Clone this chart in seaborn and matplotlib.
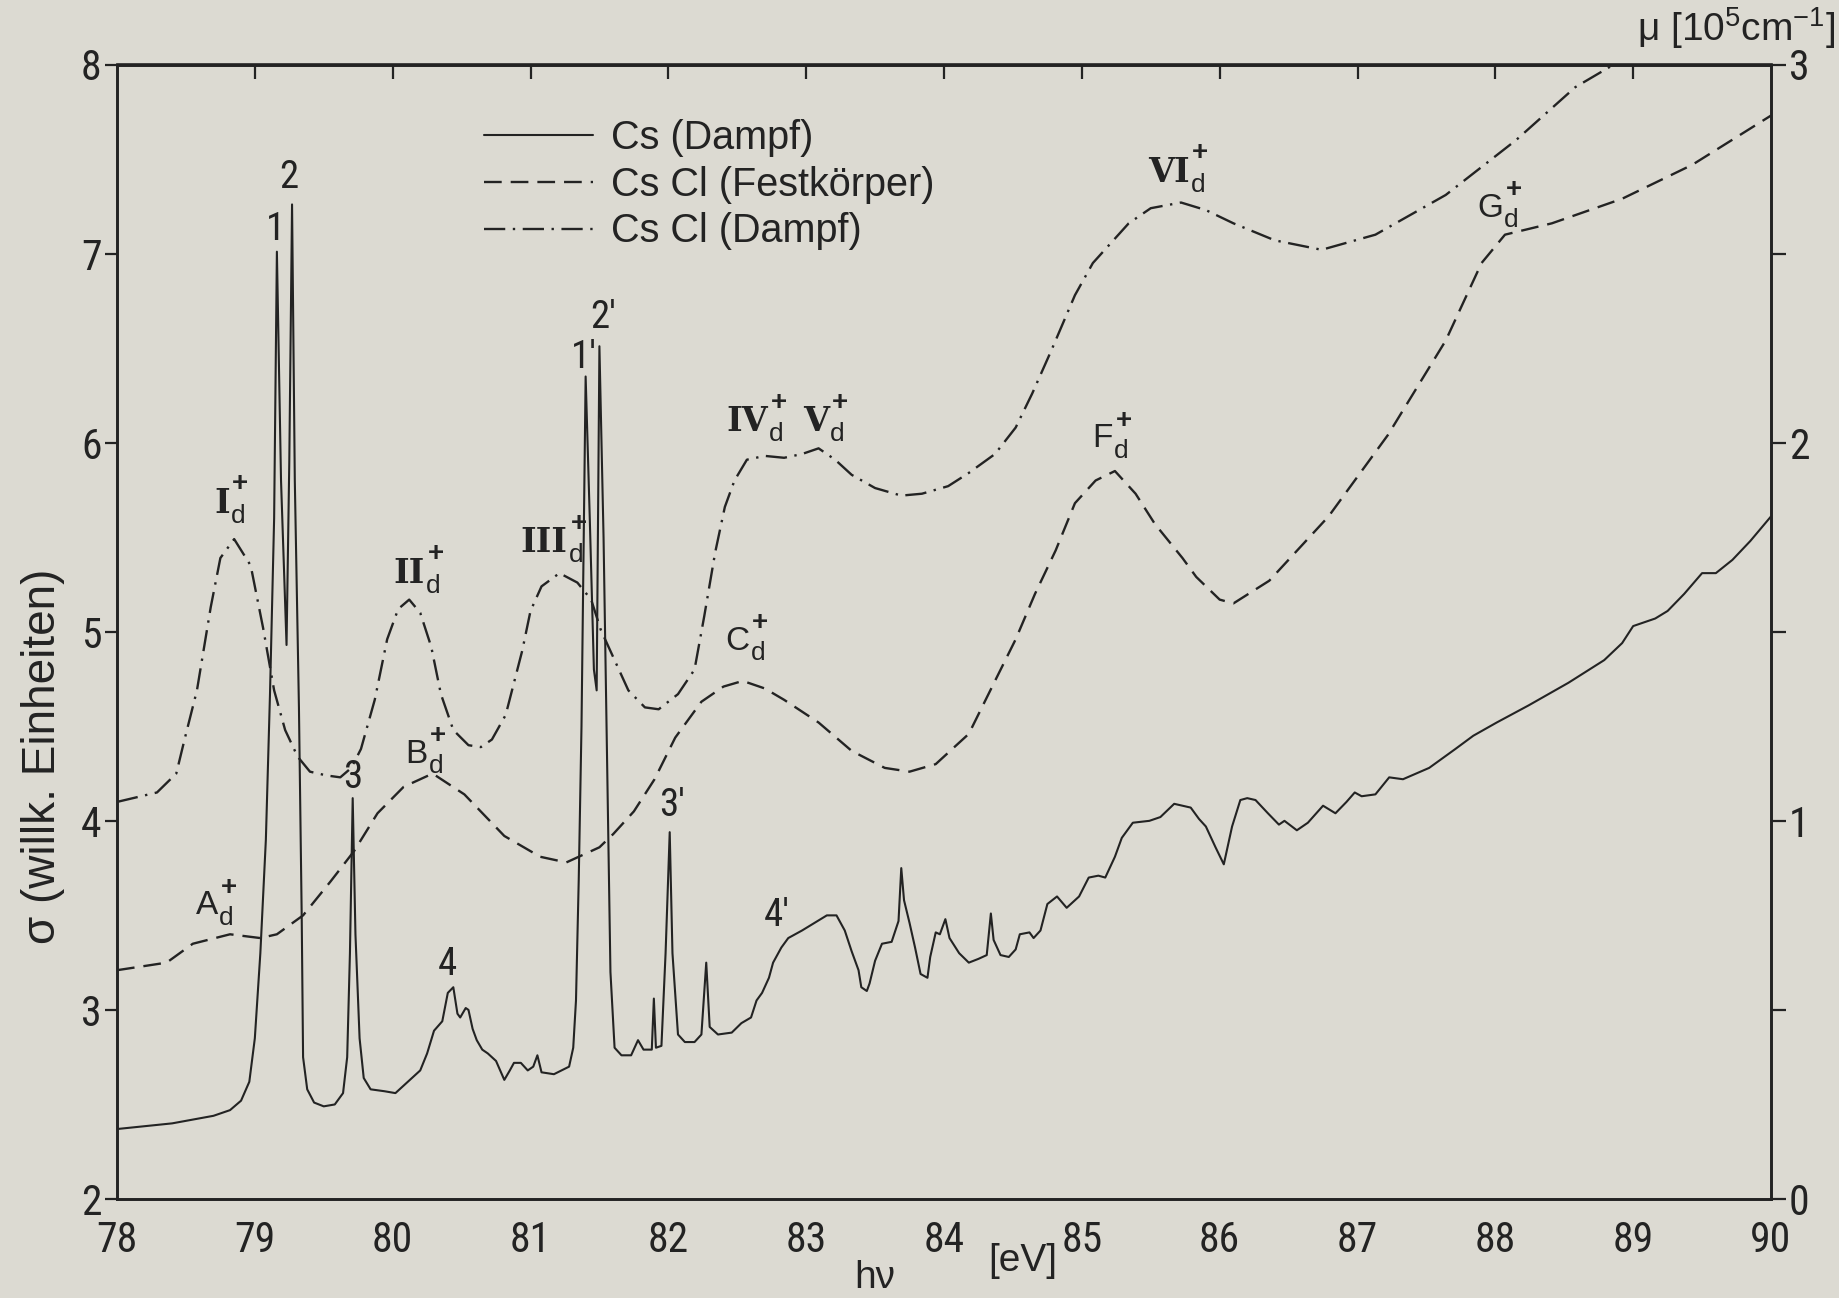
import numpy as np
import pandas as pd
import matplotlib
matplotlib.use("Agg")
import matplotlib.pyplot as plt
import matplotlib.transforms as mtransforms
from matplotlib import font_manager as fm
from matplotlib.lines import Line2D
import seaborn as sns

# ---------------------------------------------------------------- data
# Cs vapour (solid line)
cs_vap_hv = [78.0, 78.4, 78.7, 78.82, 78.9, 78.96, 79.0, 79.04, 79.08, 79.11, 79.14, 79.16,
             79.19, 79.23, 79.25, 79.27, 79.29, 79.32, 79.34, 79.35, 79.38, 79.43, 79.5,
             79.58, 79.64, 79.67, 79.69, 79.71, 79.73, 79.76, 79.79, 79.84, 79.94, 80.02,
             80.08, 80.14, 80.2, 80.25, 80.3, 80.36, 80.4, 80.44, 80.47, 80.49, 80.53,
             80.55, 80.58, 80.61, 80.65, 80.69, 80.75, 80.81, 80.85, 80.88, 80.93, 80.98,
             81.02, 81.05, 81.08, 81.17, 81.28, 81.31, 81.33, 81.35, 81.37, 81.4, 81.43,
             81.46, 81.48, 81.5, 81.53, 81.56, 81.58, 81.61, 81.66, 81.73, 81.78, 81.82,
             81.88, 81.895, 81.91, 81.95, 81.98, 82.01, 82.03, 82.07, 82.12, 82.19, 82.24,
             82.275, 82.3, 82.36, 82.46, 82.53, 82.6, 82.64, 82.68, 82.73, 82.76, 82.82,
             82.87, 82.97, 83.06, 83.15, 83.22, 83.28, 83.33, 83.38, 83.4, 83.44, 83.46,
             83.5, 83.55, 83.62, 83.67, 83.69, 83.71, 83.75, 83.79, 83.83, 83.88, 83.9,
             83.94, 83.97, 84.01, 84.04, 84.11, 84.18, 84.25, 84.31, 84.34, 84.36, 84.41,
             84.47, 84.52, 84.55, 84.62, 84.65, 84.7, 84.75, 84.82, 84.89, 84.98, 85.05,
             85.12, 85.17, 85.24, 85.29, 85.37, 85.49, 85.57, 85.67, 85.79, 85.85, 85.9,
             85.97, 86.03, 86.09, 86.15, 86.2, 86.26, 86.35, 86.43, 86.47, 86.56, 86.64,
             86.75, 86.84, 86.92, 86.98, 87.03, 87.13, 87.23, 87.33, 87.52, 87.71, 87.84,
             88.01, 88.24, 88.53, 88.79, 88.92, 89.0, 89.16, 89.25, 89.37, 89.5, 89.6,
             89.72, 89.85, 90.0]
cs_vap_sigma = [2.37, 2.4, 2.44, 2.47, 2.52, 2.62, 2.85, 3.3, 3.9, 4.67, 5.6, 7.01,
                5.8, 4.93, 5.9, 7.26, 5.8, 4.6, 3.5, 2.75, 2.58, 2.51, 2.49,
                2.5, 2.56, 2.75, 3.3, 4.12, 3.4, 2.85, 2.64, 2.58, 2.57, 2.56,
                2.6, 2.64, 2.68, 2.77, 2.89, 2.94, 3.09, 3.12, 2.98, 2.96, 3.01,
                3.0, 2.9, 2.84, 2.79, 2.77, 2.73, 2.63, 2.68, 2.72, 2.72, 2.68,
                2.7, 2.76, 2.67, 2.66, 2.7, 2.8, 3.05, 3.69, 4.5, 6.35, 5.6,
                4.8, 4.69, 6.51, 5.5, 4.11, 3.2, 2.8, 2.76, 2.76, 2.84, 2.79,
                2.79, 3.06, 2.8, 2.81, 3.3, 3.94, 3.3, 2.87, 2.83, 2.83, 2.87,
                3.25, 2.91, 2.87, 2.88, 2.93, 2.96, 3.05, 3.09, 3.17, 3.25, 3.33,
                3.38, 3.42, 3.46, 3.5, 3.5, 3.42, 3.31, 3.21, 3.12, 3.1, 3.14,
                3.26, 3.35, 3.36, 3.47, 3.75, 3.58, 3.46, 3.33, 3.19, 3.17, 3.28,
                3.41, 3.4, 3.48, 3.38, 3.3, 3.25, 3.27, 3.29, 3.51, 3.37, 3.29,
                3.28, 3.32, 3.4, 3.41, 3.38, 3.42, 3.56, 3.6, 3.54, 3.6, 3.7,
                3.71, 3.7, 3.81, 3.91, 3.99, 4.0, 4.02, 4.09, 4.07, 4.01, 3.97,
                3.86, 3.77, 3.97, 4.11, 4.12, 4.11, 4.04, 3.98, 4.0, 3.95, 3.99,
                4.08, 4.04, 4.1, 4.15, 4.13, 4.14, 4.23, 4.22, 4.28, 4.38, 4.45,
                4.52, 4.61, 4.73, 4.85, 4.94, 5.03, 5.07, 5.11, 5.2, 5.31, 5.31,
                5.38, 5.48, 5.61]

# CsCl solid (dashed line)
cscl_sol_hv = [78.0, 78.36, 78.55, 78.82, 79.04, 79.16, 79.35, 79.55, 79.72, 79.89, 80.08,
               80.29, 80.52, 80.81, 81.07, 81.26, 81.5, 81.6, 81.75, 81.9, 82.05, 82.24,
               82.4, 82.54, 82.7, 82.84, 83.09, 83.33, 83.57, 83.75, 83.94, 84.18, 84.37,
               84.52, 84.66, 84.81, 84.95, 85.1, 85.24, 85.39, 85.53, 85.73, 85.83, 86.0,
               86.1, 86.36, 86.79, 87.22, 87.64, 87.9, 88.07, 88.41, 88.92, 89.43, 90.0]
cscl_sol_sigma = [3.21, 3.25, 3.35, 3.4, 3.38, 3.4, 3.5, 3.68, 3.84, 4.04, 4.18,
                  4.25, 4.14, 3.92, 3.81, 3.78, 3.86, 3.93, 4.05, 4.22, 4.44, 4.63,
                  4.71, 4.74, 4.7, 4.64, 4.52, 4.37, 4.28, 4.26, 4.3, 4.46, 4.74,
                  4.96, 5.2, 5.43, 5.68, 5.8, 5.85, 5.73, 5.57, 5.39, 5.29, 5.17,
                  5.15, 5.27, 5.61, 6.04, 6.54, 6.95, 7.1, 7.16, 7.29, 7.47, 7.73]

# CsCl vapour (dash-dot line)
cscl_vap_hv = [78.0, 78.29, 78.43, 78.49, 78.58, 78.68, 78.75, 78.85, 78.97, 79.06, 79.14,
               79.22, 79.31, 79.4, 79.52, 79.62, 79.7, 79.77, 79.87, 79.96, 80.04, 80.12,
               80.2, 80.28, 80.35, 80.44, 80.55, 80.64, 80.72, 80.82, 80.94, 81.0, 81.08,
               81.21, 81.34, 81.44, 81.51, 81.61, 81.71, 81.83, 81.93, 82.07, 82.19, 82.26,
               82.34, 82.41, 82.48, 82.57, 82.7, 82.84, 82.97, 83.09, 83.21, 83.33, 83.5,
               83.69, 83.84, 84.03, 84.18, 84.37, 84.52, 84.64, 84.78, 84.95, 85.08, 85.34,
               85.5, 85.72, 85.9, 86.1, 86.4, 86.74, 87.13, 87.64, 88.15, 88.58, 88.86, 89.0]
cscl_vap_sigma = [4.1, 4.15, 4.25, 4.43, 4.69, 5.13, 5.39, 5.49, 5.35, 5.02, 4.69,
                  4.48, 4.34, 4.26, 4.24, 4.23, 4.28, 4.38, 4.64, 4.96, 5.12, 5.17,
                  5.1, 4.92, 4.67, 4.48, 4.4, 4.39, 4.43, 4.56, 4.9, 5.11, 5.24,
                  5.31, 5.26, 5.17, 5.01, 4.85, 4.69, 4.6, 4.59, 4.67, 4.8, 5.08,
                  5.42, 5.66, 5.8, 5.91, 5.93, 5.92, 5.94, 5.97, 5.91, 5.83, 5.76,
                  5.72, 5.73, 5.77, 5.84, 5.94, 6.08, 6.26, 6.49, 6.78, 6.95, 7.16,
                  7.24, 7.27, 7.23, 7.16, 7.07, 7.02, 7.1, 7.31, 7.6, 7.88, 8.0, 8.07]

series_names = ["Cs (Dampf)", "Cs Cl (Festkörper)", "Cs Cl (Dampf)"]

# peak labels: text, hv, sigma
line_labels = ["1", "2", "3", "4", "1'", "2'", "3'", "4'"]
line_label_hv = [79.15, 79.245, 79.71, 80.40, 81.385, 81.525, 82.03, 82.79]
line_label_sigma = [7.13, 7.40, 4.23, 3.24, 6.45, 6.66, 4.08, 3.50]

# band labels (main symbol, hv, sigma)
band_symbols = ["I", "II", "III", "IV", "V", "VI", "A", "B", "C", "F", "G"]
band_hv = [78.76, 80.12, 81.10, 82.57, 83.07, 85.63, 78.65, 80.17, 82.50, 85.15, 87.96]
band_sigma = [5.68, 5.31, 5.47, 6.11, 6.11, 7.43, 3.55, 4.35, 4.95, 6.02, 7.24]

x_ticks = list(range(78, 91))
y_ticks = [2, 3, 4, 5, 6, 7, 8]
mu_ticks = [0, 1, 2, 3]
mu_minor = [0.5, 1.5, 2.5]

# ---------------------------------------------------------------- fonts
def available(name):
    try:
        fm.findfont(fm.FontProperties(family=name), fallback_to_default=False)
        return True
    except Exception:
        return False

NARROW = next((f for f in ["Liberation Sans Narrow", "Roboto Condensed", "Liberation Sans"]
               if available(f)), "DejaVu Sans")
SANS = "Liberation Sans" if available("Liberation Sans") else "DejaVu Sans"
SERIF = "DejaVu Serif" if available("DejaVu Serif") else "Liberation Serif"
ROMAN_NUMERALS = {"I", "II", "III", "IV", "V", "VI"}

INK = "#232323"
PAPER = "#dcdad2"

sns.set_theme(style="white")
plt.rcParams["font.family"] = [NARROW, "DejaVu Sans"]
plt.rcParams["mathtext.fontset"] = "custom"
plt.rcParams["mathtext.rm"] = SANS
plt.rcParams["mathtext.it"] = SANS
plt.rcParams["text.color"] = INK

# ---------------------------------------------------------------- figure
W, H = 1839, 1298
fig = plt.figure(figsize=(W / 100, H / 100), dpi=100, facecolor=PAPER)
left, right, top, bottom = 117, 1771, 64.5, 1199
ax = fig.add_axes([left / W, 1 - bottom / H, (right - left) / W, (bottom - top) / H])
ax.set_facecolor(PAPER)

df = pd.concat([
    pd.DataFrame({"hv": cs_vap_hv, "sigma": cs_vap_sigma, "probe": series_names[0]}),
    pd.DataFrame({"hv": cscl_sol_hv, "sigma": cscl_sol_sigma, "probe": series_names[1]}),
    pd.DataFrame({"hv": cscl_vap_hv, "sigma": cscl_vap_sigma, "probe": series_names[2]}),
], ignore_index=True)

dash_map = {series_names[0]: "", series_names[1]: (7.5, 3.8), series_names[2]: (9.0, 3.2, 1.0, 3.2)}
lw_map = {series_names[0]: 1.5, series_names[1]: 1.7, series_names[2]: 1.7}

for name in series_names:
    sub = df[df["probe"] == name]
    sns.lineplot(data=sub, x="hv", y="sigma", color=INK, linewidth=lw_map[name],
                 estimator=None, sort=False, ax=ax, legend=False)
    line = ax.lines[-1]
    if dash_map[name]:
        line.set_dashes(dash_map[name])
    line.set_solid_joinstyle("round")
    line.set_dash_capstyle("butt")

ax.set_xlim(78, 90)
ax.set_ylim(2, 8)
ax.set_xlabel("")
ax.set_ylabel("")

for s in ax.spines.values():
    s.set_color(INK)
    s.set_linewidth(1.9)

ax.set_xticks(x_ticks)
ax.set_yticks(y_ticks)
ax.tick_params(axis="x", direction="out", length=11, width=1.6, color=INK,
               labelsize=30, pad=4, labelcolor=INK)
ax.tick_params(axis="y", direction="out", length=9, width=1.6, color=INK,
               labelsize=30, pad=2, labelcolor=INK, right=False)

# inward ticks along the top edge
top_ax = ax.secondary_xaxis("top")
top_ax.set_xticks(x_ticks[1:-1])
top_ax.tick_params(axis="x", direction="in", length=11, width=1.6, color=INK, labeltop=False)
top_ax.spines["top"].set_linewidth(1.9)
top_ax.spines["top"].set_color(INK)

# absorption coefficient scale on the right
ax2 = ax.twinx()
ax2.set_ylim(0, 3)
ax2.set_yticks(mu_ticks)
ax2.set_yticks(mu_minor, minor=True)
ax2.tick_params(axis="y", which="both", direction="out", length=11, width=1.6, color=INK,
                labelsize=30, pad=2, labelcolor=INK)
ax2.yaxis.set_minor_formatter(matplotlib.ticker.NullFormatter())
ax2.grid(False)
for s in ax2.spines.values():
    s.set_color(INK)
    s.set_linewidth(1.9)

# axis titles
ax.text(-0.045, 0.39, "σ (willk. Einheiten)", transform=ax.transAxes, rotation=90,
        ha="center", va="center", fontsize=33, family=[SANS, "DejaVu Sans"], color=INK)
xt = mtransforms.blended_transform_factory(ax.transData, ax.transAxes)
ax.text(83.5, -0.07, "hν", transform=xt, ha="center", va="center", fontsize=28,
        family=[SANS, "DejaVu Sans"], color=INK)
ax.text(84.57, -0.055, "[eV]", transform=xt, ha="center", va="center", fontsize=28,
        family=[SANS, "DejaVu Sans"], color=INK)
fig.text(0.998, 0.978, r"μ [10$^{5}$cm$^{-1}$]", ha="right", va="center", fontsize=28,
         family=[SANS, "DejaVu Sans"], color=INK)

# legend
handles = [Line2D([], [], color=INK, lw=lw_map[n]) for n in series_names]
for h, n in zip(handles, series_names):
    if dash_map[n]:
        h.set_dashes(dash_map[n])
ax.legend(handles, series_names, loc="upper left", bbox_to_anchor=(0.222, 0.952),
          frameon=False, handlelength=2.75, handletextpad=0.45, labelspacing=0.22,
          borderpad=0, borderaxespad=0, prop=fm.FontProperties(family=SANS, size=28.5))

# peak labels
for txt, x, y in zip(line_labels, line_label_hv, line_label_sigma):
    ax.text(x, y, txt, ha="center", va="center", fontsize=28, color=INK)

# band labels with subscript d and superscript +
for sym, x, y in zip(band_symbols, band_hv, band_sigma):
    is_roman = sym in ROMAN_NUMERALS
    t = ax.text(x, y, sym, ha="center", va="center", fontsize=24,
                color=INK, family=[SERIF] if is_roman else [SANS],
                fontweight="bold" if is_roman else "normal")
    ax.annotate("d", xy=(1, 0.12), xycoords=t, xytext=(1, 0), textcoords="offset points",
                ha="left", va="center", fontsize=19, color=INK, family=SANS)
    ax.annotate("+", xy=(1, 1.0), xycoords=t, xytext=(2, 2), textcoords="offset points",
                ha="left", va="center", fontsize=20, color=INK, family=SANS,
                fontweight="bold")

fig.savefig("out.png", dpi=100, facecolor=PAPER)
